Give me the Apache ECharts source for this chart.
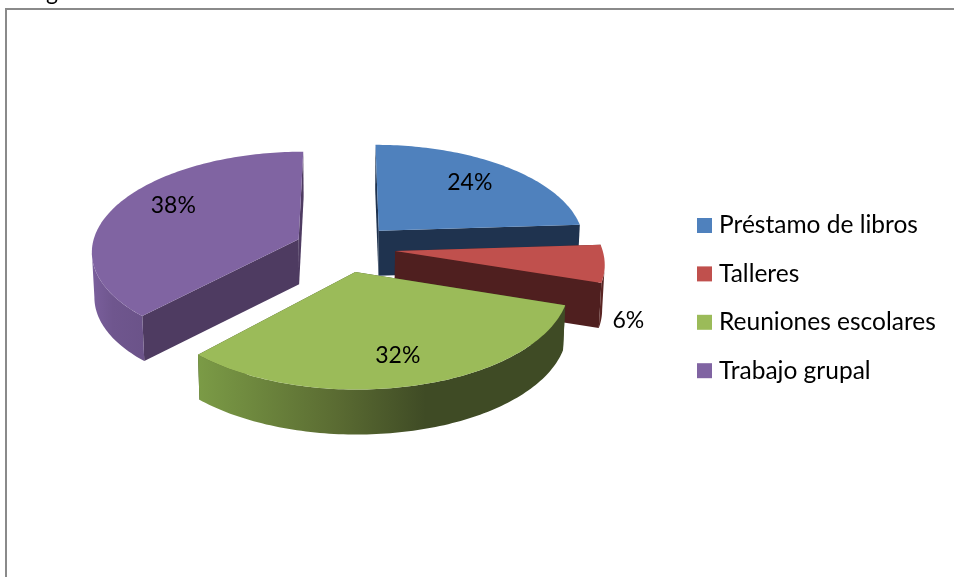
<!DOCTYPE html>
<html><head><meta charset="utf-8">
<script src="https://cdn.jsdelivr.net/npm/echarts@6/dist/echarts.min.js"></script>
<style>html,body{margin:0;padding:0;background:#fff}#c{width:954px;height:577px}</style>
</head><body><div id="c"></div>
<script>
const categories = ['Préstamo de libros','Talleres','Reuniones escolares','Trabajo grupal'];
const values = [24,6,32,38];
const colors = ['#4f81bd','#c0504d','#9bbb59','#8064a2'];
const cutColors = ['#1f334f','#4f1f1f','#3f4b25','#4e3b61'];
const rimStops = [
  [[0,'#4f81bd'],[1,'#1f334f']],
  [[0,'#5a2523'],[1,'#5a2523']],
  [[0,'#7b9b46'],[0.38,'#5a6b32'],[0.62,'#3f4b25'],[1,'#3f4b25']],
  [[0,'#6b5389'],[0.6,'#6f568e'],[1,'#7a5f9c']]
];
const labelRadius = [0.68,0.62,0.76,0.66];
const labelShift = [[3,-3],[104,62],[-2.5,0],[-4,-11]];
const sliceNudge = [0,0,-2.5,0];
const drawOrder = [3,0,1,2];

const view = {cx:345, cy:248, rx:207, ry:99, k:0.11, explode:0.243, depth:45, shrink:0.99};
const FONT = 'Lato, Carlito, sans-serif', LABEL_FS = 23, LEGEND_FS = 24.5;
const total = values.reduce((a,b)=>a+b,0);
const sliceAngles = [];
{ let acc=0; values.forEach(v=>{ const a0=acc/total*2*Math.PI; acc+=v; sliceAngles.push([a0,acc/total*2*Math.PI]); }); }

function project(i,r,theta,lower){
  const [a0,a1]=sliceAngles[i], m=(a0+a1)/2;
  const wx=view.explode*Math.sin(m)+r*Math.sin(theta);
  const wy=-view.explode*Math.cos(m)-r*Math.cos(theta);
  const w=1-view.k*wy;
  let X=view.rx*wx/w, Y=view.ry*wy/w;
  if(lower){ X*=view.shrink; Y+=view.depth; }
  return [view.cx+X+sliceNudge[i], view.cy+Y];
}
function arc(i,t0,t1,lower){
  const n=Math.max(2,Math.ceil((t1-t0)/0.02)), pts=[];
  for(let j=0;j<=n;j++) pts.push(project(i,1,t0+(t1-t0)*j/n,lower));
  return pts;
}
// front-facing part of the rim: between the rightmost and leftmost points of the projected circle
function frontRange(i){
  let tMax=0,tMin=0,xMax=-Infinity,xMin=Infinity;
  for(let t=0;t<2*Math.PI;t+=0.005){
    const x=project(i,1,t,false)[0];
    if(x>xMax){xMax=x;tMax=t;}
    if(x<xMin){xMin=x;tMin=t;}
  }
  return [tMax,tMin];
}
function renderSlice(i){
  const [a0,a1]=sliceAngles[i];
  const kids=[];
  const cut=t=>({type:'polygon',shape:{points:[project(i,0,0,false),project(i,1,t,false),project(i,1,t,true),project(i,0,0,true)]},style:{fill:cutColors[i]}});
  kids.push(cut(a0)); kids.push(cut(a1));
  const fr=frontRange(i), f0=Math.max(a0,fr[0]), f1=Math.min(a1,fr[1]);
  if(f1>f0){
    const top=arc(i,f0,f1,false), bot=arc(i,f0,f1,true).reverse();
    const stops=rimStops[i].map(s=>({offset:s[0],color:s[1]}));
    kids.push({type:'polygon',shape:{points:top.concat(bot)},
      style:{fill:new echarts.graphic.LinearGradient(i===3?1:0,0,i===3?0:1,0,stops)}});
  }
  kids.push({type:'polygon',shape:{points:[project(i,0,0,false)].concat(arc(i,a0,a1,false))},style:{fill:colors[i]}});
  const m=(a0+a1)/2, lp=project(i,labelRadius[i],m,false);
  kids.push({type:'text',x:lp[0]+labelShift[i][0],y:lp[1]+labelShift[i][1],
    style:{text:values[i]+'%',fill:'#000',font:LABEL_FS+'px '+FONT,textAlign:'center',textVerticalAlign:'middle'}});
  return {type:'group',children:kids};
}
const chart=echarts.init(document.getElementById('c'),null,{renderer:'canvas'});
chart.setOption({
  animation:false,
  backgroundColor:'#fff',
  legend:{
    data:categories, orient:'vertical', left:692, top:208, padding:5,
    icon:'rect', itemWidth:15, itemHeight:15, itemGap:23.4, selectedMode:false,
    textStyle:{fontFamily:'Lato, Carlito, sans-serif', fontSize:LEGEND_FS, color:'#000', lineHeight:15, padding:[0,0,0,2]}
  },
  graphic:[
    {type:'rect',z:0,shape:{x:6,y:9,width:960,height:580},style:{fill:'none',stroke:'#8a8a8a',lineWidth:2}},
    {type:'text',z:0,x:46,y:-19,style:{text:'g',fill:'#000',font:LABEL_FS+'px '+FONT}}
  ],
  series:drawOrder.map(i=>({
    type:'custom', name:categories[i], coordinateSystem:'none',
    itemStyle:{color:colors[i]}, data:[[values[i]]], encode:{value:0},
    renderItem:()=>renderSlice(i)
  }))
});
</script></body></html>
